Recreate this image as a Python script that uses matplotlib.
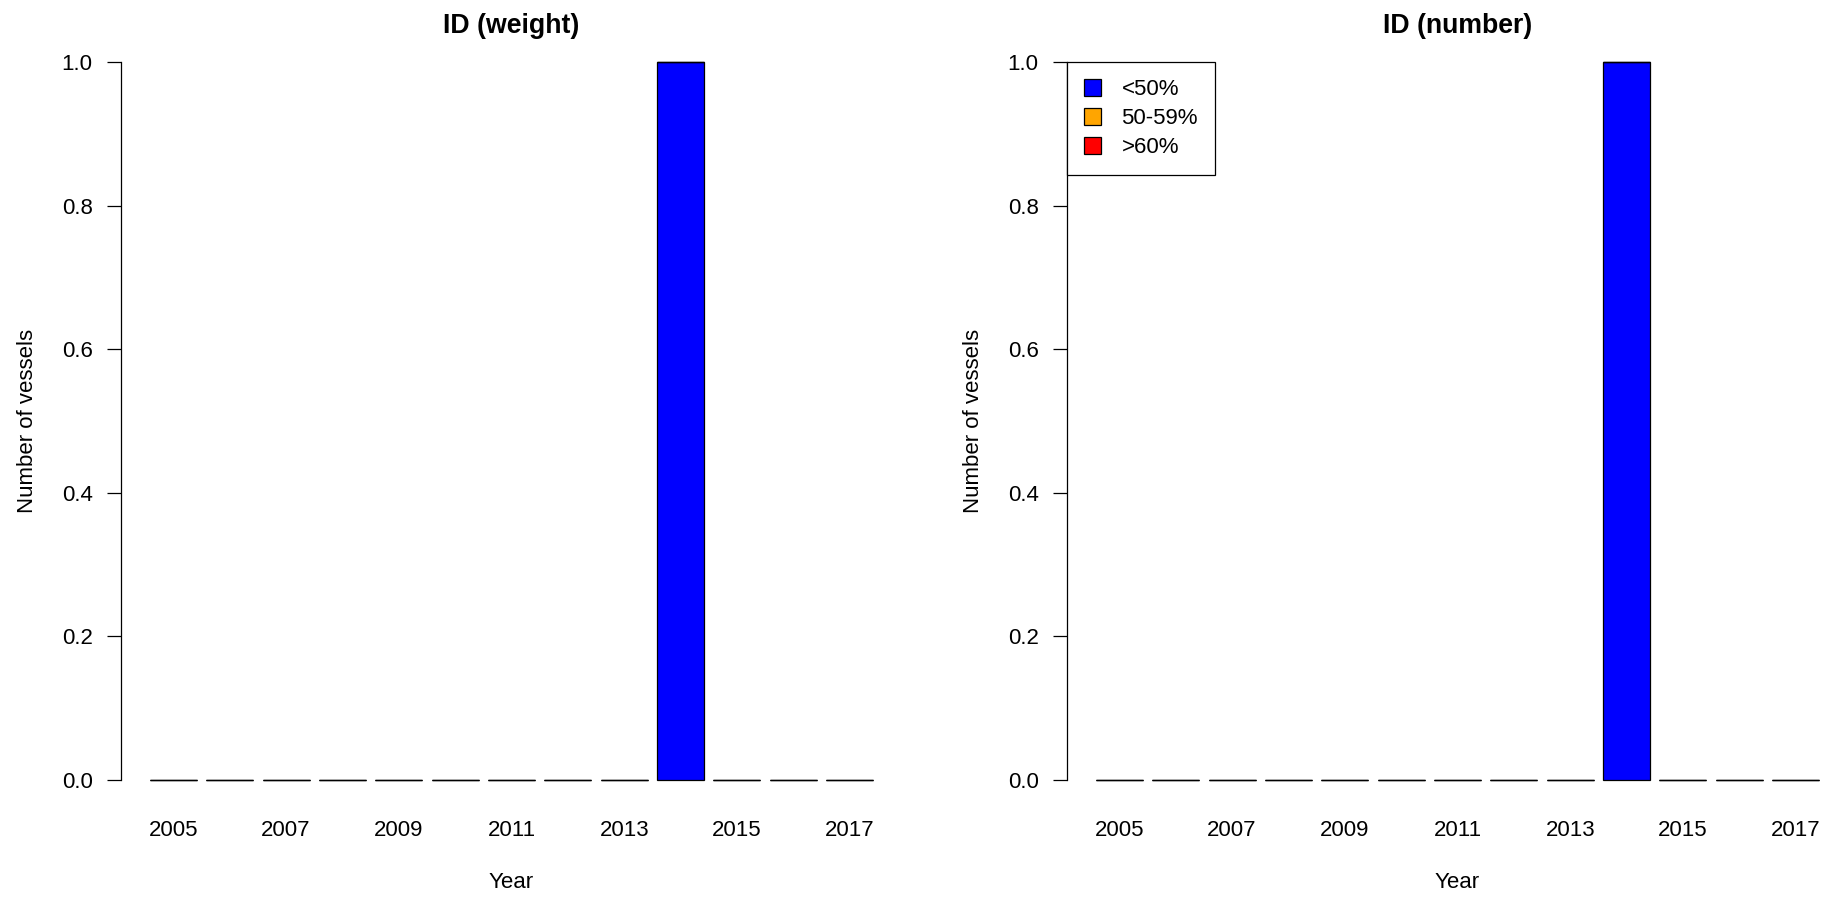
import matplotlib
matplotlib.use("Agg")
import matplotlib.pyplot as plt
from matplotlib.patches import Patch
import numpy as np

years = [2005, 2006, 2007, 2008, 2009, 2010, 2011, 2012, 2013, 2014, 2015, 2016, 2017]
categories = ["<50%", "50-59%", ">60%"]
colors = ["#0000FF", "#FFA500", "#FF0000"]

weight_lt50 = [0, 0, 0, 0, 0, 0, 0, 0, 0, 1, 0, 0, 0]
weight_50_59 = [0, 0, 0, 0, 0, 0, 0, 0, 0, 0, 0, 0, 0]
weight_gt60 = [0, 0, 0, 0, 0, 0, 0, 0, 0, 0, 0, 0, 0]

number_lt50 = [0, 0, 0, 0, 0, 0, 0, 0, 0, 1, 0, 0, 0]
number_50_59 = [0, 0, 0, 0, 0, 0, 0, 0, 0, 0, 0, 0, 0]
number_gt60 = [0, 0, 0, 0, 0, 0, 0, 0, 0, 0, 0, 0, 0]

yticks = [0.0, 0.2, 0.4, 0.6, 0.8, 1.0]

plt.rcParams['font.family'] = ['Liberation Sans', 'DejaVu Sans']
W, H = 1836, 901
fig = plt.figure(figsize=(W / 100, H / 100), dpi=100)

ax_w = 781
ax_top, ax_bot = 33.3, 808.7
ax_h = ax_bot - ax_top
lefts = [121, 1067]

panels = [
    ("ID (weight)", [weight_lt50, weight_50_59, weight_gt60]),
    ("ID (number)", [number_lt50, number_50_59, number_gt60]),
]

n = len(years)
centers = 0.7 + 1.2 * np.arange(n)

for k, (title, series) in enumerate(panels):
    ax = fig.add_axes([lefts[k] / W, 1 - ax_bot / H, ax_w / W, ax_h / H])
    bottom = np.zeros(n)
    for vals, col in zip(series, colors):
        vals = np.array(vals, dtype=float)
        ax.bar(centers, vals, width=1.0, bottom=bottom, color=col,
               edgecolor="black", linewidth=0.9)
        bottom += vals
    ax.set_xlim(-0.416, 16.216)
    ax.set_ylim(-0.04, 1.04)
    for s in ["top", "right", "bottom"]:
        ax.spines[s].set_visible(False)
    ax.spines["left"].set_bounds(0, 1)
    ax.spines["left"].set_linewidth(0.9)
    ax.set_yticks(yticks)
    ax.set_yticklabels([f"{v:.1f}" for v in yticks])
    ax.tick_params(axis="y", length=10, width=0.9, pad=10.5, labelsize=16)
    ax.set_xticks(centers[::2])
    ax.set_xticklabels([str(y) for y in years[::2]])
    ax.tick_params(axis="x", length=0, pad=8, labelsize=16)
    ax.text(0.5, 1.0, title, transform=ax.transAxes, ha="center", va="baseline",
            fontsize=19.2, fontweight="bold")
    ax.set_xlabel("Year", fontsize=16)
    ax.xaxis.set_label_coords(0.5, -(872 - ax_bot) / ax_h)
    ax.set_ylabel("Number of vessels", fontsize=16)
    ax.yaxis.set_label_coords(-(121 - 38) / ax_w, 0.5)
    if k == 1:
        handles = [Patch(facecolor=c, edgecolor="black", linewidth=0.9) for c in colors]
        leg = ax.legend(handles, categories, loc="upper left",
                        bbox_to_anchor=(0, (ax_bot - 62) / ax_h), borderaxespad=0,
                        fontsize=16, fancybox=False, framealpha=1,
                        edgecolor="black", handlelength=0.8, handleheight=0.8,
                        handletextpad=0.9, borderpad=0.75, labelspacing=0.35)
        leg.get_frame().set_linewidth(0.9)

fig.savefig("out.png", dpi=100)
